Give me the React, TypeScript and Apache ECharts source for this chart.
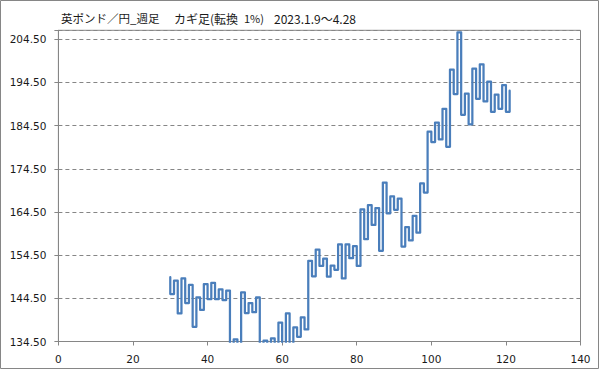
import React, { useEffect, useRef } from "react";
import * as echarts from "echarts";

// Kagi turning levels (GBP/JPY weekly, reversal 1%). First value is the start,
// each following value is reached by a vertical stroke at successive columns.
const firstColumn = 30;
const kagiLevels = [
  149.4, 145.5, 148.6, 141.0, 149.1, 143.4, 147.6, 137.9, 144.7, 141.8,
  147.8, 144.3, 148.1, 144.3, 146.6, 144.1, 146.3, 133.2, 135.0, 133.6,
  145.9, 141.1, 143.4, 141.3, 144.7, 133.0, 134.7, 133.3, 135.2, 133.4,
  138.9, 133.7, 141.0, 133.5, 137.8, 135.6, 140.1, 137.3, 153.2, 149.6,
  155.8, 152.0, 153.7, 149.5, 152.1, 151.1, 157.0, 149.1, 157.0, 153.8,
  156.6, 152.0, 165.1, 158.2, 166.1, 161.5, 165.4, 155.5, 171.3, 164.2,
  168.1, 165.0, 167.6, 156.5, 161.0, 157.9, 163.6, 159.7, 171.1, 169.0,
  183.1, 180.7, 185.2, 181.3, 188.4, 179.6, 197.5, 191.8, 206.1, 187.0,
  191.9, 184.8, 197.7, 190.7, 198.7, 190.1, 194.7, 187.7, 191.7, 188.4,
  193.9, 187.7, 192.6,
];

const yMin = 134.5;
const yMax = 206.58;
const yStep = 10;
const xMin = 0;
const xMax = 140;
const xStep = 20;

const titleMain = "英ポンド／円_週足";
const titleKind = "カギ足(転換";
const titleRate = "1%)";
const titlePeriod = "2023.1.9～4.28";

function buildKagiPoints(levels: number[], start: number): number[][] {
  const pts: number[][] = [];
  levels.forEach((v, i) => {
    if (i === 0) {
      pts.push([start, v]);
      return;
    }
    const x = start + i - 1;
    if (i > 1) pts.push([x, levels[i - 1]]);
    pts.push([x, v]);
  });
  return pts;
}

export default function App() {
  const ref = useRef<HTMLDivElement>(null);
  useEffect(() => {
    document.body.style.margin = "0";
    if (!ref.current) return;
    const chart = echarts.init(ref.current, null, { renderer: "svg" });
    const axisGray = "#868686";
    const textColor = "#1a1a1a";
    const titleFont = "'Noto Sans CJK JP', 'Noto Sans', sans-serif";
    chart.setOption({
      animation: false,
      backgroundColor: "#ffffff",
      grid: {
        left: 58.4,
        right: 18.5,
        top: 30.3,
        bottom: 27.5,
        show: true,
        borderColor: axisGray,
        borderWidth: 1,
        backgroundColor: "transparent",
      },
      graphic: [
        {
          type: "rect",
          shape: { x: 0.5, y: 0.5, width: 598, height: 368 },
          style: { fill: "none", stroke: axisGray, lineWidth: 1 },
          silent: true,
        },
        {
          type: "text",
          x: 61,
          y: 18,
          style: { text: titleMain, fontSize: 11.5, fontFamily: titleFont, fill: textColor, textVerticalAlign: "middle" },
        },
        {
          type: "text",
          x: 174,
          y: 18,
          style: { text: titleKind, fontSize: 12, fontFamily: titleFont, fill: textColor, textVerticalAlign: "middle" },
        },
        {
          type: "text",
          x: 244,
          y: 18,
          style: { text: titleRate, fontSize: 11, fontFamily: titleFont, fill: textColor, textVerticalAlign: "middle" },
        },
        {
          type: "text",
          x: 274,
          y: 18,
          style: { text: titlePeriod, fontSize: 12, fontFamily: titleFont, fill: textColor, textVerticalAlign: "middle" },
        },
      ],
      xAxis: {
        type: "value",
        min: xMin,
        max: xMax,
        interval: xStep,
        axisLine: { show: true, onZero: false, lineStyle: { color: axisGray, width: 1 } },
        axisTick: { show: true, inside: false, length: 4, lineStyle: { color: axisGray } },
        splitLine: { show: false },
        axisLabel: {
          color: textColor,
          fontSize: 10.5,
          fontFamily: "'DejaVu Sans', sans-serif",
          margin: 12,
        },
      },
      yAxis: {
        type: "value",
        min: yMin,
        max: yMax,
        interval: yStep,
        axisLine: { show: true, lineStyle: { color: axisGray, width: 1 } },
        axisTick: { show: true, inside: false, length: 4, lineStyle: { color: axisGray } },
        splitLine: {
          show: true,
          lineStyle: { color: axisGray, width: 1, type: [4, 3] },
        },
        axisLabel: {
          color: textColor,
          fontSize: 10.5,
          fontFamily: "'DejaVu Sans', sans-serif",
          margin: 12,
          formatter: (v: number) => {
            const k = (v - yMin) / yStep;
            return Math.abs(k - Math.round(k)) < 1e-6 ? v.toFixed(2) : "";
          },
        },
      },
      series: [
        {
          type: "line",
          data: buildKagiPoints(kagiLevels, firstColumn),
          showSymbol: false,
          symbol: "none",
          clip: true,
          lineStyle: { color: "#4A7EBB", width: 2.25, join: "round", cap: "round" },
        },
      ],
    });
    return () => chart.dispose();
  }, []);
  return <div ref={ref} style={{ width: 599, height: 369 }} />;
}
